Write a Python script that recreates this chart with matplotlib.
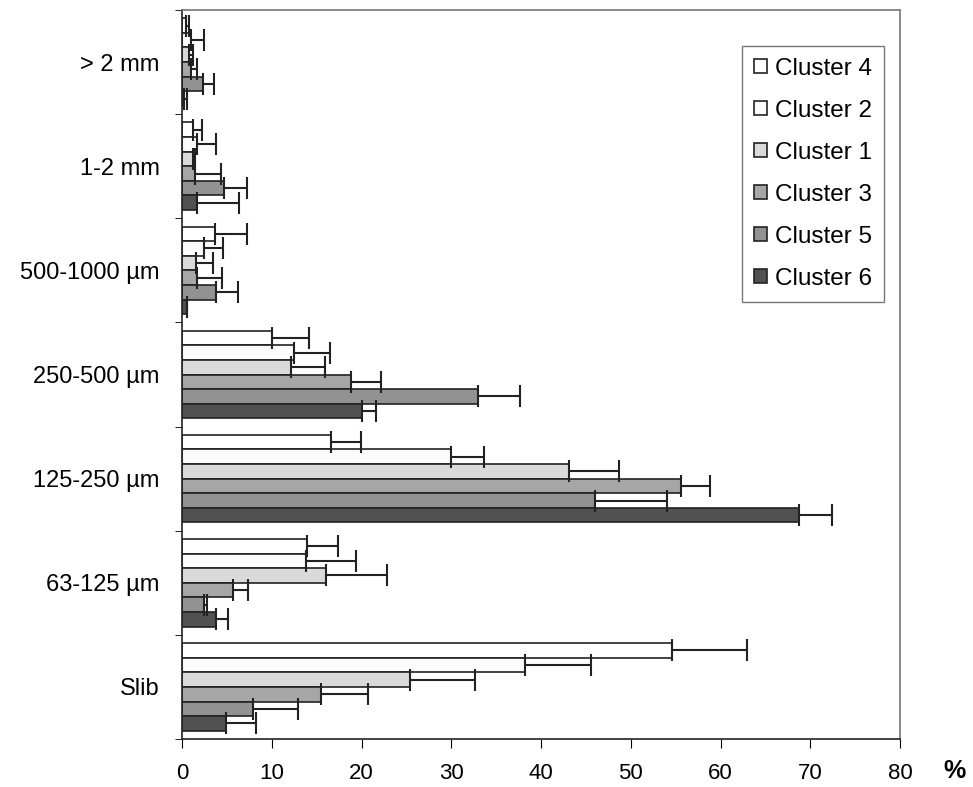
import numpy as np
import matplotlib as mpl
mpl.use('Agg')
import matplotlib.pyplot as plt

plt.rcParams['font.family'] = ['Liberation Sans', 'DejaVu Sans']

categories = ['> 2 mm', '1-2 mm', '500-1000 µm', '250-500 µm', '125-250 µm', '63-125 µm', 'Slib']
clusters = ['Cluster 4', 'Cluster 2', 'Cluster 1', 'Cluster 3', 'Cluster 5', 'Cluster 6']

# mean values (%), one list per cluster, in category order (top to bottom)
c4 = [0.5, 1.2, 3.7, 10.0, 16.6, 13.9, 54.6]
c2 = [1.0, 1.7, 2.5, 12.5, 30.0, 13.8, 38.2]
c1 = [0.8, 1.2, 1.6, 12.2, 43.1, 16.1, 25.4]
c3 = [1.0, 1.4, 1.7, 18.8, 55.6, 5.7, 15.5]
c5 = [2.3, 4.7, 3.8, 33.0, 46.0, 2.5, 7.9]
c6 = [0.2, 1.7, 0.6, 20.1, 68.8, 3.8, 4.9]

# upper end of the error bars (%)
c4_hi = [0.8, 2.2, 7.2, 14.1, 19.9, 17.4, 63.0]
c2_hi = [2.4, 3.8, 4.6, 16.5, 33.7, 19.4, 45.6]
c1_hi = [1.2, 1.4, 3.4, 15.9, 48.7, 22.8, 32.6]
c3_hi = [1.7, 4.3, 4.5, 22.2, 58.8, 7.4, 20.7]
c5_hi = [3.6, 7.2, 6.2, 37.7, 54.0, 2.8, 12.9]
c6_hi = [0.6, 6.4, 0.6, 21.6, 72.4, 5.1, 8.2]

means = [c4, c2, c1, c3, c5, c6]
highs = [c4_hi, c2_hi, c1_hi, c3_hi, c5_hi, c6_hi]
colors = ['#ffffff', '#fbfbfb', '#dadada', '#a6a6a6', '#929292', '#515151']

fig = plt.figure(figsize=(9.73, 7.87), dpi=100)
ax = fig.add_axes([182/973, 1-739/787, 718/973, 729/787])

n = len(categories)
ypos = np.arange(n)[::-1]  # first category on top
h = 0.84 / len(clusters)
for i in range(len(clusters)):
    m = np.array(means[i])
    err = np.array(highs[i]) - m
    y = ypos + 0.42 - h * (i + 0.5)
    ax.barh(y, m, height=h, color=colors[i], edgecolor='#222222', lw=1.2,
            label=clusters[i], zorder=2)
    ax.errorbar(m, y, xerr=[np.zeros(n), err], fmt='none', ecolor='#222222',
                elinewidth=1.5, capsize=8, capthick=1.5, zorder=3)

ax.set_xlim(0, 80)
ax.set_ylim(-0.5, n - 0.5)
ax.set_xticks(np.arange(0, 81, 10))
ax.tick_params(axis='x', labelsize=16, length=6.5, direction='out', pad=11)
ax.set_yticks(ypos)
ax.set_yticklabels(categories, fontsize=17)
ax.tick_params(axis='y', length=0, pad=16)
ax.set_yticks(np.arange(-0.5, n, 1), minor=True)
ax.tick_params(axis='y', which='minor', length=5, direction='out')

for s in ['left', 'bottom']:
    ax.spines[s].set_color('#222222')
    ax.spines[s].set_linewidth(1.2)
for s in ['top', 'right']:
    ax.spines[s].set_color('#777777')
    ax.spines[s].set_linewidth(1.2)

leg = ax.legend(loc='upper right', bbox_to_anchor=(0.978, 0.951), fontsize=17.5,
                frameon=True, fancybox=False, edgecolor='#555555',
                handlelength=0.52, handleheight=0.52, handletextpad=0.35,
                labelspacing=0.82, borderpad=0.5, borderaxespad=0)
leg.get_frame().set_linewidth(1.0)

fig.text(955/973, 1-771/787, '%', fontsize=18, fontweight='bold', ha='center', va='center')

plt.savefig('out.png', dpi=100)
